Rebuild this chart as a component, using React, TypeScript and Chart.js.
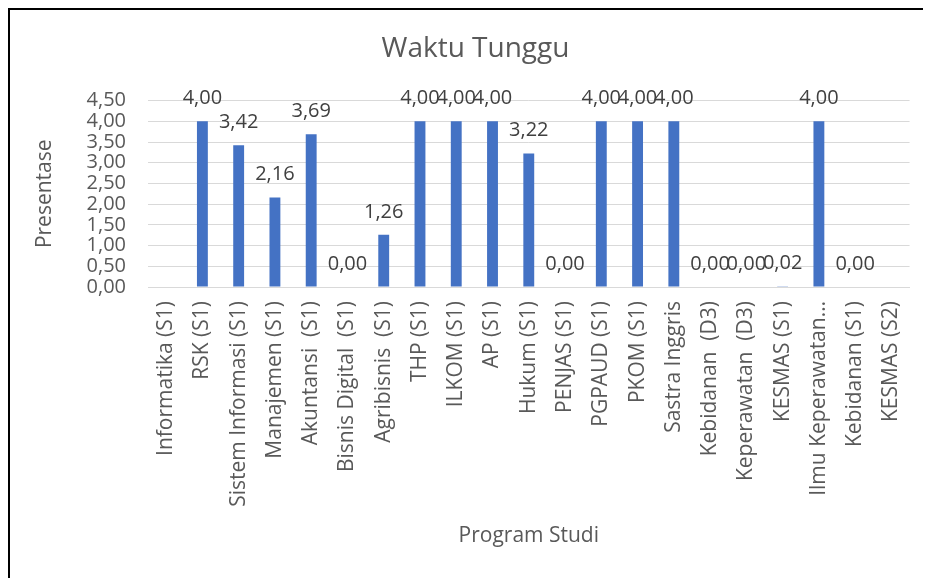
import React, { useEffect, useRef } from "react";
import { Chart, registerables } from "chart.js";

Chart.register(...registerables);

const categories = [
  "Informatika (S1)",
  "RSK (S1)",
  "Sistem Informasi (S1)",
  "Manajemen (S1)",
  "Akuntansi  (S1)",
  "Bisnis Digital  (S1)",
  "Agribisnis  (S1)",
  "THP (S1)",
  "ILKOM (S1)",
  "AP (S1)",
  "Hukum (S1)",
  "PENJAS (S1)",
  "PGPAUD (S1)",
  "PKOM (S1)",
  "Sastra Inggris",
  "Kebidanan  (D3)",
  "Keperawatan  (D3)",
  "KESMAS (S1)",
  "Ilmu Keperawatan…",
  "Kebidanan (S1)",
  "KESMAS (S2)",
];

const values: (number | null)[] = [
  null, 4.0, 3.42, 2.16, 3.69, 0.0, 1.26, 4.0, 4.0, 4.0, 3.22, 0.0, 4.0, 4.0, 4.0,
  0.0, 0.0, 0.02, 4.0, 0.0, null,
];

const chartTitle = "Waktu Tunggu";
const xTitle = "Program Studi";
const yTitle = "Presentase";
const yMin = 0;
const yMax = 4.5;
const yStep = 0.5;

const FONT = "'Open Sans', 'Noto Sans', sans-serif";
const fmt = (v: number) => v.toFixed(2).replace(".", ",");

const dataLabels = {
  id: "dataLabels",
  afterDatasetsDraw(chart: any) {
    const ctx = chart.ctx;
    const meta = chart.getDatasetMeta(0);
    const data = chart.data.datasets[0].data;
    ctx.save();
    ctx.font = `20px ${FONT}`;
    ctx.fillStyle = "#404040";
    ctx.textAlign = "center";
    ctx.textBaseline = "middle";
    meta.data.forEach((el: any, i: number) => {
      const v = data[i];
      if (v === null || v === undefined) return;
      ctx.fillText(fmt(v), el.x, el.y - 23);
    });
    ctx.restore();
  },
};

export default function App() {
  const ref = useRef<HTMLCanvasElement>(null);
  useEffect(() => {
    if (!ref.current) return;
    const chart = new Chart(ref.current, {
      type: "bar",
      data: {
        labels: categories,
        datasets: [
          {
            data: values,
            backgroundColor: "#4472c4",
            barPercentage: 0.3,
            categoryPercentage: 1,
          },
        ],
      },
      options: {
        responsive: false,
        animation: false,
        layout: { padding: { top: 0, left: 26, right: 16, bottom: 0 } },
        plugins: {
          legend: { display: false },
          tooltip: { enabled: false },
          title: {
            display: true,
            text: chartTitle,
            color: "#595959",
            font: { family: FONT, size: 28, weight: "normal" },
            padding: { top: 22, bottom: 35 },
          },
        },
        scales: {
          x: {
            grid: { display: false, drawTicks: false },
            border: { display: true, color: "#d9d9d9" },
            ticks: {
              color: "#595959",
              font: { family: FONT, size: 21 },
              maxRotation: 90,
              minRotation: 90,
              autoSkip: false,
              padding: 14,
            },
            title: {
              display: true,
              text: xTitle,
              color: "#595959",
              font: { family: FONT, size: 21 },
              padding: { top: 0, bottom: 29 },
            },
            afterFit: (s: any) => {
              s.height = 291;
            },
          },
          y: {
            min: yMin,
            max: yMax,
            grid: { color: "#d9d9d9", drawTicks: false },
            border: { display: false },
            ticks: {
              stepSize: yStep,
              autoSkip: false,
              color: "#595959",
              font: { family: FONT, size: 20, lineHeight: 1 },
              padding: 22,
              callback: (v: any) => fmt(Number(v)),
            },
            title: {
              display: true,
              text: yTitle,
              color: "#595959",
              font: { family: FONT, size: 21 },
              padding: { top: -4, bottom: 0 },
            },
            afterFit: (s: any) => {
              s.width = 112;
            },
          },
        },
      },
      plugins: [dataLabels],
    });
    return () => chart.destroy();
  }, []);

  return (
    <div
      style={{
        width: 923,
        height: 570,
        boxSizing: "border-box",
        borderTop: "2px solid #000",
        borderLeft: "2px solid #000",
        background: "#fff",
      }}
    >
      <canvas ref={ref} width={921} height={568} style={{ display: "block" }} />
    </div>
  );
}
